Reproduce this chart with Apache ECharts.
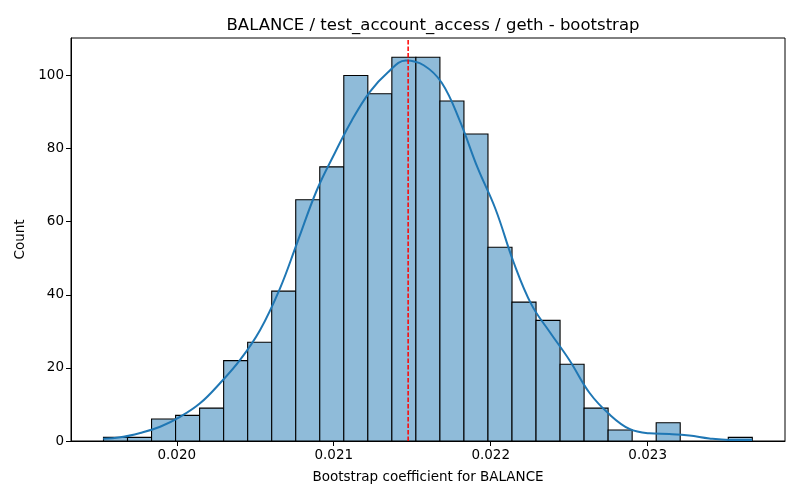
<!DOCTYPE html>
<html>
<head>
<meta charset="utf-8">
<script src="https://cdn.jsdelivr.net/npm/echarts@6/dist/echarts.min.js"></script>
<style>html,body{margin:0;padding:0;background:#fff;}#c{width:800px;height:500px;}</style>
</head>
<body>
<div id="c"></div>
<script>
// Histogram data
var binStart = 0.019533;
var binWidth = 0.0001531;
var counts = [1, 1, 6, 7, 9, 22, 27, 41, 66, 75, 100, 95, 105, 105, 93, 84, 53, 38, 33, 21, 9, 3, 0, 5, 0, 0, 1];
// KDE curve
var kdeX = [0.019531, 0.019640, 0.019767, 0.019894, 0.020021, 0.020148, 0.020275, 0.020402, 0.020530, 0.020657, 0.020765, 0.020892, 0.021007, 0.021115, 0.021230, 0.021344, 0.021459, 0.021573, 0.021688, 0.021802, 0.021917, 0.022031, 0.022146, 0.022260, 0.022375, 0.022502, 0.022629, 0.022756, 0.022884, 0.023011, 0.023138, 0.023265, 0.023393, 0.023520, 0.023666];
var kdeY = [0.6, 1.0, 2.2, 3.9, 6.6, 10.3, 15.8, 22.1, 30.3, 41.7, 54.0, 68.6, 78.8, 87.7, 95.5, 100.8, 104.1, 102.8, 98.0, 87.7, 74.7, 63.4, 48.9, 37.3, 29.9, 22.1, 13.2, 7.3, 3.3, 2.1, 1.9, 1.5, 0.7, 0.3, 0.3];
var meanValue = 0.021474;
var xTicks = [0.020, 0.021, 0.022, 0.023];
var yTicks = [0, 20, 40, 60, 80, 100];
var xMin = 0.019326, xMax = 0.023875, yMax = 110.25;

var barData = counts.map(function (c, i) {
  return [binStart + i * binWidth, binStart + (i + 1) * binWidth, c];
});
var kdeData = kdeX.map(function (x, i) { return [x, kdeY[i]]; });

var font = 'DejaVu Sans';
var chart = echarts.init(document.getElementById('c'));
chart.setOption({
  animation: false,
  backgroundColor: '#fff',
  title: {
    text: 'BALANCE / test_account_access / geth - bootstrap',
    left: 428, top: 12, textAlign: 'center',
    textStyle: { fontFamily: font, fontSize: 16.5, fontWeight: 'normal', color: '#000' }
  },
  grid: { left: 71, right: 15, top: 38, bottom: 59, show: true, borderColor: '#000', borderWidth: 1, backgroundColor: 'transparent' },
  xAxis: {
    type: 'value', min: xMin, max: xMax,
    name: 'Bootstrap coefficient for BALANCE', nameLocation: 'middle', nameGap: 29,
    nameTextStyle: { fontFamily: font, fontSize: 13.5, color: '#000' },
    axisLine: { show: true, lineStyle: { color: '#000', width: 1 } },
    axisTick: { show: true, inside: false, length: 5, lineStyle: { color: '#000' }, customValues: xTicks },
    axisLabel: { fontFamily: font, fontSize: 13.5, color: '#000', margin: 7, customValues: xTicks, formatter: function (v) { return v.toFixed(3); } },
    splitLine: { show: false }
  },
  yAxis: {
    type: 'value', min: 0, max: yMax,
    name: 'Count', nameLocation: 'middle', nameGap: 42,
    nameTextStyle: { fontFamily: font, fontSize: 13.5, color: '#000' },
    axisLine: { show: true, lineStyle: { color: '#000', width: 1 } },
    axisTick: { show: true, inside: false, length: 5, lineStyle: { color: '#000' }, customValues: yTicks },
    axisLabel: { fontFamily: font, fontSize: 13.5, color: '#000', margin: 7, customValues: yTicks },
    splitLine: { show: false }
  },
  series: [
    {
      type: 'custom',
      data: barData,
      encode: { x: [0, 1], y: 2 },
      z: 2,
      renderItem: function (params, api) {
        var p0 = api.coord([api.value(0), api.value(2)]);
        var p1 = api.coord([api.value(1), 0]);
        if (api.value(2) <= 0) return null;
        return {
          type: 'rect',
          shape: { x: p0[0], y: p0[1], width: p1[0] - p0[0], height: p1[1] - p0[1] },
          style: { fill: '#8fbbd9', stroke: '#000', lineWidth: 1.1 }
        };
      }
    },
    {
      type: 'line',
      data: kdeData,
      smooth: 0.4,
      showSymbol: false,
      symbol: 'none',
      color: '#1f77b4',
      z: 3,
      lineStyle: { color: '#1f77b4', width: 2 }
    },
    {
      type: 'line',
      data: [[meanValue, 0], [meanValue, yMax]],
      showSymbol: false,
      symbol: 'none',
      color: '#ff0000',
      z: 4,
      lineStyle: { color: '#ff0000', type: [4.5, 2], width: 1.5, opacity: 1 }
    }
  ]
});
</script>
</body>
</html>
